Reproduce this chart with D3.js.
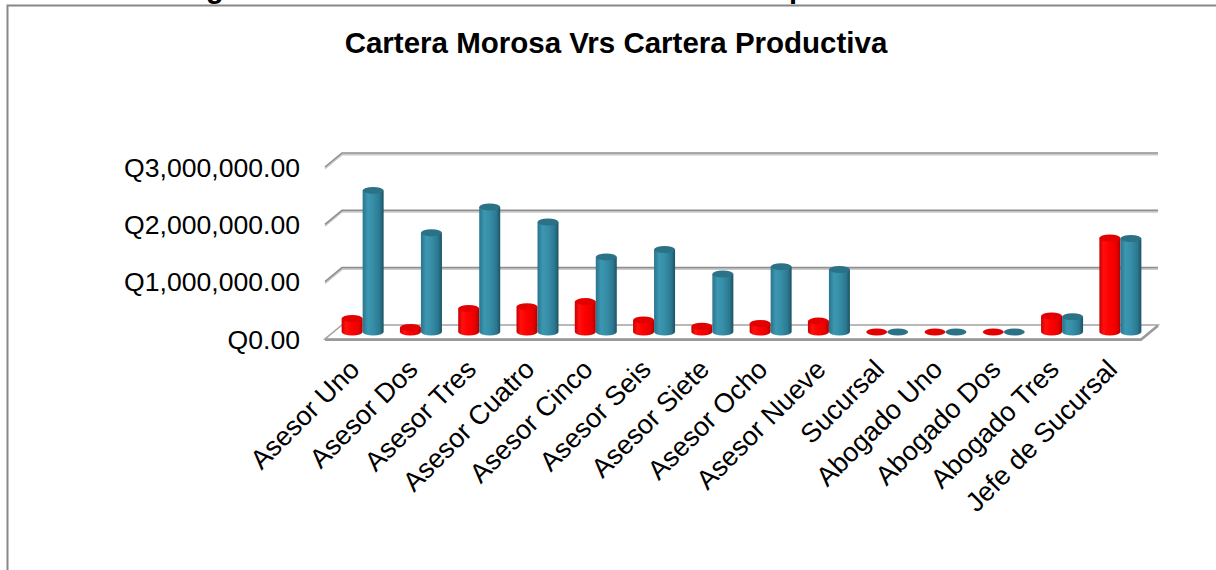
<!DOCTYPE html>
<html>
<head>
<meta charset="utf-8">
<script src="https://cdn.jsdelivr.net/npm/d3@7"></script>
<style>
  body { margin: 0; background: #fff; }
  text { font-family: "Liberation Sans", Arial, sans-serif; }
</style>
</head>
<body>
<div id="canvas"></div>
<script>
/* global d3 */

const width = 1216
const height = 570

// data (quetzales)
const categories = ['Asesor Uno', 'Asesor Dos', 'Asesor Tres', 'Asesor Cuatro', 'Asesor Cinco',
  'Asesor Seis', 'Asesor Siete', 'Asesor Ocho', 'Asesor Nueve', 'Sucursal',
  'Abogado Uno', 'Abogado Dos', 'Abogado Tres', 'Jefe de Sucursal']
const morosa = [235000, 80000, 410000, 440000, 530000, 210000, 100000, 150000, 190000,
  0, 0, 0, 280000, 1640000]
const productiva = [2470000, 1730000, 2180000, 1920000, 1310000, 1440000, 1010000, 1140000, 1090000,
  0, 0, 0, 265000, 1630000]
const yTicks = [0, 1000000, 2000000, 3000000]

const series = [
  {name: 'Cartera Morosa', values: morosa, side: 'red', top: '#e20000'},
  {name: 'Cartera Productiva', values: productiva, side: 'teal', top: '#2b7287'}
]

// 3d layout: front floor edge, depth offset of the back wall
const front = {left: 325, right: 1141, y: 339}
const depth = {dx: 17, dy: -14}

const svg = d3.select('#canvas')
  .append('svg')
  .attr('width', width)
  .attr('height', height)

const defs = svg.append('defs')
function gradient (id, stops) {
  const g = defs.append('linearGradient').attr('id', id)
    .attr('x1', '0%').attr('x2', '100%').attr('y1', '0%').attr('y2', '0%')
  stops.forEach(s => g.append('stop').attr('offset', s[0]).attr('stop-color', s[1]))
}
gradient('red', [['0%', '#c80000'], ['20%', '#ff1010'], ['45%', '#ff0000'], ['80%', '#ea0000'], ['100%', '#b20000']])
gradient('teal', [['0%', '#2a748d'], ['25%', '#3c97b1'], ['55%', '#358ba4'], ['82%', '#2b7790'], ['100%', '#1d5262']])

// chart area border (continues past the window)
svg.append('rect')
  .attr('x', 7.5).attr('y', 5.5)
  .attr('width', 1400).attr('height', 800)
  .attr('fill', 'none')
  .attr('stroke', '#878787')
  .attr('stroke-width', 2)

// heading above the chart, cut off by the window as in the source
svg.append('text').text('g')
  .attr('x', 206).attr('y', -2)
  .attr('font-size', '29px').attr('font-weight', 'bold')
svg.append('text').text('p')
  .attr('x', 789).attr('y', -2)
  .attr('font-size', '29px').attr('font-weight', 'bold')

svg.append('text')
  .text('Cartera Morosa Vrs Cartera Productiva')
  .attr('x', 616).attr('y', 52.5)
  .attr('text-anchor', 'middle')
  .attr('font-size', '29.5px')
  .attr('font-weight', 'bold')

const x = d3.scaleBand()
  .domain(categories)
  .range([front.left, front.right])

const y = d3.scaleLinear()
  .domain([0, 3000000])
  .range([0, 172])

const fmt = v => 'Q' + d3.format(',.2f')(v)

// back wall gridlines + left wall diagonals
const grid = svg.append('g')
yTicks.filter(t => t > 0).forEach(t => {
  const yb = front.y + depth.dy - y(t)
  const xb = front.left + depth.dx
  ;[['#c9c9c9', 1.6], ['#8e8e8e', 0]].forEach(([c, off]) => {
    grid.append('path')
      .attr('d', `M${front.left},${yb - depth.dy + off}L${xb},${yb + off}L${front.right + depth.dx},${yb + off}`)
      .attr('fill', 'none')
      .attr('stroke', c)
      .attr('stroke-width', 1.6)
  })
})

// floor
const fl = front.left, fr = front.right, fy = front.y
svg.append('path')
  .attr('d', `M${fl},${fy}L${fr},${fy}L${fr + depth.dx},${fy + depth.dy}L${fl + depth.dx},${fy + depth.dy}Z`)
  .attr('fill', '#fff')
  .attr('stroke', '#a3a3a3')
  .attr('stroke-width', 1.6)
svg.append('path')
  .attr('d', `M${fl},${fy + 0.8}L${fr},${fy + 0.8}L${fr + depth.dx},${fy + depth.dy + 0.8}`)
  .attr('fill', 'none')
  .attr('stroke', '#9a9a9a')
  .attr('stroke-width', 2.4)

// y tick labels at the front end of each gridline
svg.append('g')
  .selectAll('text')
  .data(yTicks)
  .enter()
  .append('text')
  .text(d => fmt(d))
  .attr('x', 300)
  .attr('y', d => front.y - y(d) + 9.5)
  .attr('text-anchor', 'end')
  .attr('font-size', '26.6px')
  .attr('fill', '#000')

// cylinders, standing in the middle of the depth
const barW = 21
const ry = 3.5
const baseY = front.y + depth.dy / 2
const bars = svg.append('g')
categories.forEach((cat, i) => {
  const cx0 = x(cat) + x.bandwidth() / 2 + depth.dx / 2
  series.forEach((s, k) => {
    const x0 = cx0 - barW + k * barW
    const h = y(s.values[i])
    const yt = baseY - h
    if (h > 0.5) {
      bars.append('path')
        .attr('d', `M${x0},${yt}L${x0},${baseY}A${barW / 2},${ry} 0 0 0 ${x0 + barW},${baseY}L${x0 + barW},${yt}Z`)
        .attr('fill', `url(#${s.side})`)
    }
    bars.append('ellipse')
      .attr('cx', x0 + barW / 2)
      .attr('cy', yt)
      .attr('rx', barW / 2)
      .attr('ry', ry)
      .attr('fill', s.top)
  })
})

// rotated category labels
svg.append('g')
  .selectAll('text')
  .data(categories)
  .enter()
  .append('text')
  .text(d => d)
  .attr('transform', d => `translate(${x(d) + x.bandwidth() / 2 + 7},371) rotate(-45)`)
  .attr('text-anchor', 'end')
  .attr('font-size', '27px')
  .attr('fill', '#000')
</script>
</body>
</html>
